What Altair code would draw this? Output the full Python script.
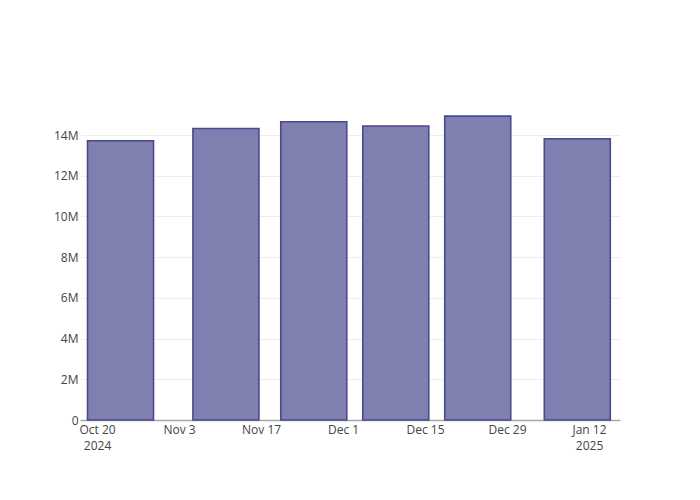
import altair as alt
import pandas as pd

dates = ["2024-10-24", "2024-11-11", "2024-11-26", "2024-12-10", "2024-12-24", "2025-01-10"]
values = [13.72e6, 14.32e6, 14.65e6, 14.44e6, 14.93e6, 13.82e6]

x_ticks = [
    alt.DateTime(year=2024, month=10, date=20),
    alt.DateTime(year=2024, month=11, date=3),
    alt.DateTime(year=2024, month=11, date=17),
    alt.DateTime(year=2024, month=12, date=1),
    alt.DateTime(year=2024, month=12, date=15),
    alt.DateTime(year=2024, month=12, date=29),
    alt.DateTime(year=2025, month=1, date=12),
]
y_ticks = [0, 2e6, 4e6, 6e6, 8e6, 10e6, 12e6, 14e6]

df = pd.DataFrame({"date": [d + "T00:00:00" for d in dates], "value": values})

FONT = "Open Sans"

x_domain = [
    alt.DateTime(year=2024, month=10, date=17, hours=2),
    alt.DateTime(year=2025, month=1, date=17, hours=7),
]

chart = alt.Chart(df).mark_bar(
    width=66,
    fill="#7f7fb0",
    stroke="#4a4a8e",
    strokeWidth=1.6,
    opacity=1,
).encode(
    x=alt.X(
        "date:T",
        scale=alt.Scale(domain=x_domain, nice=False, padding=0),
        axis=alt.Axis(
            title=None,
            values=x_ticks,
            grid=False,
            ticks=False,
            domain=True,
            domainColor="#a8a8a8",
            domainWidth=1.5,
            labelFlush=False,
            labelOverlap=False,
            labelFont=FONT,
            labelFontSize=12,
            labelColor="#444444",
            labelPadding=4,
            labelLineHeight=16,
            labelExpr="(month(datum.value)==9 && date(datum.value)==20) || (month(datum.value)==0 && date(datum.value)==12) ? [timeFormat(datum.value,'%b %-d'), timeFormat(datum.value,'%Y')] : timeFormat(datum.value,'%b %-d')",
        ),
    ),
    y=alt.Y(
        "value:Q",
        scale=alt.Scale(domain=[0, 15.72e6], nice=False, zero=True),
        axis=alt.Axis(
            title=None,
            values=y_ticks,
            grid=True,
            gridColor="#eeeeee",
            gridWidth=1,
            ticks=False,
            domain=False,
            labelFont=FONT,
            labelFontSize=12,
            labelColor="#444444",
            labelPadding=2,
            labelExpr="datum.value == 0 ? '0' : format(datum.value/1e6, 'd') + 'M'",
        ),
    ),
).properties(
    width=540,
    height=320,
    autosize=alt.AutoSizeParams(type="none"),
    padding={"left": 72, "top": 92, "right": 72, "bottom": 72},
).configure_view(
    stroke=None
)

chart.save("out.html", embed_options={"renderer": "svg", "actions": False})
